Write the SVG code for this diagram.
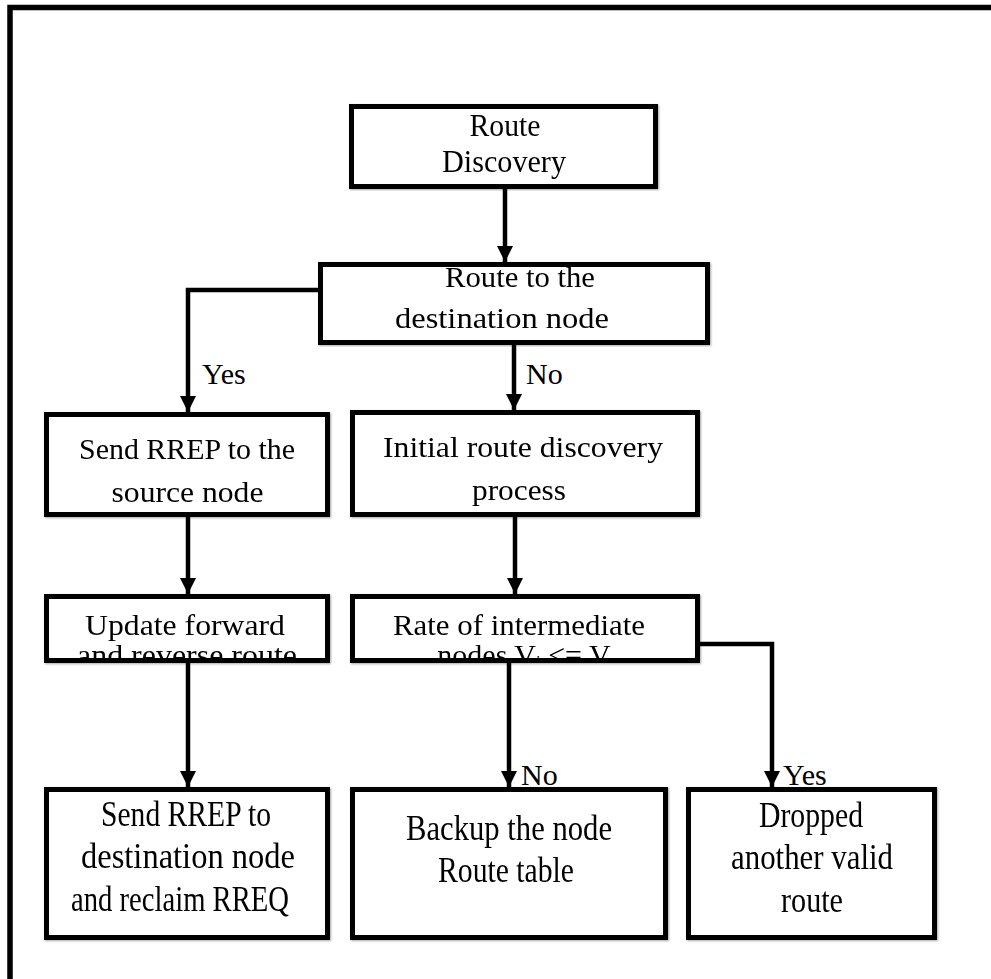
<svg xmlns="http://www.w3.org/2000/svg" width="991" height="979" viewBox="0 0 991 979">
  <style>
    .box { fill: #ffffff; stroke: #000000; stroke-width: 5; }
    .frame { fill: none; stroke: #000000; stroke-width: 5.5; }
    .conn { fill: none; stroke: #000000; stroke-width: 4.5; }
    text { font-family: "Liberation Serif", "DejaVu Serif", serif; font-size: 30px; fill: #000000; text-anchor: middle; }
    .tall { font-size: 35px; }
    .head { font-size: 31px; }
    .lbl { text-anchor: start; }
  </style>
  <defs>
    <marker id="arrow" viewBox="0 0 10 10" refX="10" refY="5" markerWidth="3.6" markerHeight="3.6" markerUnits="strokeWidth" orient="auto">
      <path d="M0,0 L10,5 L0,10 z" fill="#000000"/>
    </marker>
    <filter id="soft" x="-5%" y="-5%" width="110%" height="110%">
      <feDropShadow dx="1" dy="1" stdDeviation="0.8" flood-color="#000000" flood-opacity="0.35"/>
    </filter>
    <!-- inner areas of the two short boxes; their second lines run past the bottom edge -->
    <clipPath id="clip5"><rect x="49" y="597" width="276" height="63.5"/></clipPath>
    <clipPath id="clip6"><rect x="355" y="597" width="340" height="63.5"/></clipPath>
  </defs>

  <rect width="991" height="979" fill="#ffffff"/>
  <!-- outer frame: top and left edges only -->
  <path class="frame" d="M10 979 V7.5 H991"/>

  <g id="connectors">
    <path class="conn" d="M505 188 V262" marker-end="url(#arrow)"/>
    <path class="conn" d="M318 290 H188 V412" marker-end="url(#arrow)"/>
    <path class="conn" d="M514 345 V410" marker-end="url(#arrow)"/>
    <path class="conn" d="M188 517 V594" marker-end="url(#arrow)"/>
    <path class="conn" d="M515 517 V594" marker-end="url(#arrow)"/>
    <path class="conn" d="M188 663 V787" marker-end="url(#arrow)"/>
    <path class="conn" d="M509 663 V787" marker-end="url(#arrow)"/>
    <path class="conn" d="M700 644 H772 V787" marker-end="url(#arrow)"/>
  </g>

  <g id="route-discovery" filter="url(#soft)">
    <rect class="box" x="351.5" y="106.5" width="304" height="80"/>
    <text class="head" x="505" y="136" textLength="71" lengthAdjust="spacingAndGlyphs">Route</text>
    <text class="head" x="504" y="172" textLength="124" lengthAdjust="spacingAndGlyphs">Discovery</text>
  </g>

  <g id="route-to-destination" filter="url(#soft)">
    <rect class="box" x="320.5" y="264.5" width="387" height="78"/>
    <text x="520" y="287" textLength="150" lengthAdjust="spacingAndGlyphs">Route to the</text>
    <text x="502" y="328" textLength="214" lengthAdjust="spacingAndGlyphs">destination node</text>
  </g>

  <g id="label-yes-1">
    <text class="lbl" x="202" y="384">Yes</text>
  </g>
  <g id="label-no-1">
    <text class="lbl" x="526" y="384">No</text>
  </g>

  <g id="send-rrep-source" filter="url(#soft)">
    <rect class="box" x="46.5" y="414.5" width="281" height="100"/>
    <text x="187" y="459" textLength="216" lengthAdjust="spacingAndGlyphs">Send RREP to the</text>
    <text x="187.5" y="502" textLength="152" lengthAdjust="spacingAndGlyphs">source node</text>
  </g>

  <g id="initial-discovery" filter="url(#soft)">
    <rect class="box" x="352.5" y="412.5" width="345" height="102"/>
    <text x="523" y="457" textLength="280" lengthAdjust="spacingAndGlyphs">Initial route discovery</text>
    <text x="519" y="500" textLength="94" lengthAdjust="spacingAndGlyphs">process</text>
  </g>

  <g id="update-route" filter="url(#soft)">
    <rect class="box" x="46.5" y="596.5" width="281" height="64"/>
    <g clip-path="url(#clip5)">
      <text x="185" y="635" textLength="200" lengthAdjust="spacingAndGlyphs">Update forward</text>
      <text x="187" y="665" textLength="220" lengthAdjust="spacingAndGlyphs">and reverse route</text>
    </g>
  </g>

  <g id="rate-check" filter="url(#soft)">
    <rect class="box" x="352.5" y="596.5" width="345" height="64"/>
    <g clip-path="url(#clip6)">
      <text x="519" y="635" textLength="252" lengthAdjust="spacingAndGlyphs">Rate of intermediate</text>
      <text x="524" y="665">nodes V<tspan font-size="17" dy="2">i</tspan><tspan dy="-2"> &lt;= V</tspan></text>
    </g>
  </g>

  <g id="label-no-2">
    <text class="lbl" x="521" y="785">No</text>
  </g>
  <g id="label-yes-2">
    <text class="lbl" x="783" y="785">Yes</text>
  </g>

  <g id="send-rrep-destination" filter="url(#soft)">
    <rect class="box" x="46.5" y="789.5" width="281" height="148"/>
    <text class="tall" x="186" y="826" textLength="170" lengthAdjust="spacingAndGlyphs">Send RREP to</text>
    <text class="tall" x="188" y="868" textLength="214" lengthAdjust="spacingAndGlyphs">destination node</text>
    <text class="tall" x="180" y="911" textLength="218" lengthAdjust="spacingAndGlyphs">and reclaim RREQ</text>
  </g>

  <g id="backup-node" filter="url(#soft)">
    <rect class="box" x="352.5" y="789.5" width="313" height="148"/>
    <text class="tall" x="509" y="840" textLength="206" lengthAdjust="spacingAndGlyphs">Backup the node</text>
    <text class="tall" x="506" y="882" textLength="136" lengthAdjust="spacingAndGlyphs">Route table</text>
  </g>

  <g id="dropped-route" filter="url(#soft)">
    <rect class="box" x="688.5" y="789.5" width="246" height="148"/>
    <text class="tall" x="811" y="827" textLength="104" lengthAdjust="spacingAndGlyphs">Dropped</text>
    <text class="tall" x="812" y="869" textLength="162" lengthAdjust="spacingAndGlyphs">another valid</text>
    <text class="tall" x="812" y="912" textLength="62" lengthAdjust="spacingAndGlyphs">route</text>
  </g>
</svg>
